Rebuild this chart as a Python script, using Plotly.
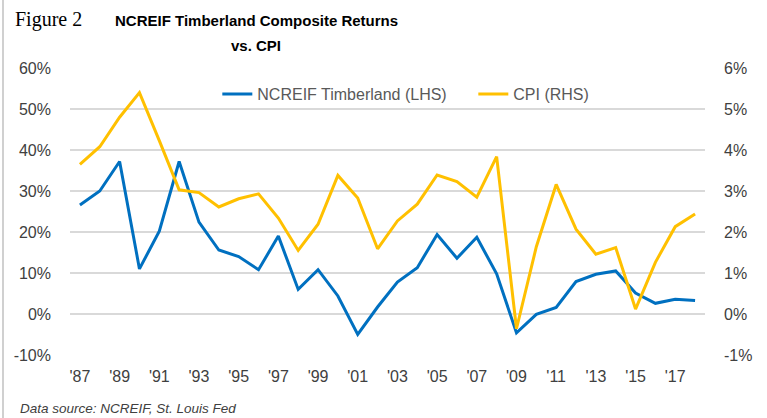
import plotly.graph_objects as go

years = list(range(1987, 2019))
timberland = [26.6, 30.0, 37.2, 11.0, 20.2, 37.2, 22.4, 15.6, 14.0, 10.8, 19.0, 6.0,
              10.8, 4.4, -5.0, 1.7, 7.8, 11.3, 19.4, 13.6, 18.7, 9.8, -4.6, -0.1,
              1.6, 7.9, 9.7, 10.5, 5.1, 2.6, 3.6, 3.3]
cpi = [3.65, 4.08, 4.8, 5.4, 4.23, 3.03, 2.96, 2.61, 2.81, 2.93, 2.34, 1.55,
       2.19, 3.38, 2.83, 1.59, 2.27, 2.68, 3.39, 3.23, 2.85, 3.84, -0.36, 1.64,
       3.16, 2.07, 1.46, 1.62, 0.12, 1.26, 2.13, 2.44]
tick_years = list(range(1987, 2019, 2))
tick_text = ["'" + str(y)[2:] for y in tick_years]
left_ticks = [-10, 0, 10, 20, 30, 40, 50, 60]
right_ticks = [-1, 0, 1, 2, 3, 4, 5, 6]

FONT = "Liberation Sans Narrow, Arial Narrow, Liberation Sans, Arial"

fig = go.Figure()
fig.add_trace(go.Scatter(x=years, y=timberland, mode="lines", name="NCREIF Timberland (LHS)",
                         line=dict(color="#0070c0", width=3), yaxis="y"))
fig.add_trace(go.Scatter(x=years, y=cpi, mode="lines", name="CPI (RHS)",
                         line=dict(color="#ffc000", width=3), yaxis="y2"))

fig.update_layout(
    width=767, height=418,
    margin=dict(l=70, r=62, t=68, b=63, autoexpand=False),
    paper_bgcolor="white", plot_bgcolor="white",
    font=dict(family=FONT, color="#404040", size=16),
    showlegend=True,
    legend=dict(orientation="h", x=0.232, y=0.909, xanchor="left", yanchor="middle",
                font=dict(family=FONT, size=16, color="#595959"),
                bgcolor="rgba(0,0,0,0)", itemwidth=30, tracegroupgap=0,
                entrywidth=211, entrywidthmode="pixels"),
    xaxis=dict(range=[1986.5, 2018.5], tickvals=tick_years, ticktext=tick_text,
               showgrid=False, zeroline=False, showline=False, ticks="",
               ticklabelstandoff=10, tickfont=dict(size=16, color="#404040")),
    yaxis=dict(range=[-10, 60], tickvals=left_ticks,
               ticktext=[f"{v}%" for v in left_ticks],
               showgrid=True, gridcolor="#d9d9d9", gridwidth=1.5,
               zeroline=False, showline=False, ticks="", ticklabelstandoff=18,
               tickfont=dict(size=16, color="#404040")),
    yaxis2=dict(range=[-1, 6], tickvals=right_ticks,
                ticktext=[f"{v}%" for v in right_ticks],
                overlaying="y", side="right", showgrid=False, zeroline=False,
                showline=False, ticks="", ticklabelstandoff=18,
                tickfont=dict(size=16, color="#404040")),
    annotations=[
        dict(text="<b>NCREIF Timberland Composite Returns</b>", xref="paper", yref="paper",
             x=(256 - 70) / 635, y=1 + (68 - 20) / 287, xanchor="center", yanchor="middle",
             showarrow=False, font=dict(family=FONT, size=15, color="#000000")),
        dict(text="<b>vs. CPI</b>", xref="paper", yref="paper",
             x=(256 - 70) / 635, y=1 + (68 - 45) / 287, xanchor="center", yanchor="middle",
             showarrow=False, font=dict(family=FONT, size=15, color="#000000")),
        dict(text="Figure 2", xref="paper", yref="paper",
             x=-(70 - 13) / 635, y=1 + (68 - 19) / 287, xanchor="left", yanchor="middle",
             showarrow=False, font=dict(family="Liberation Serif, DejaVu Serif, serif",
                                        size=20, color="#000000")),
        dict(text="<i>Data source: NCREIF, St. Louis Fed</i>", xref="paper", yref="paper",
             x=-(70 - 18) / 635, y=-(408 - 355) / 287, xanchor="left", yanchor="middle",
             showarrow=False, font=dict(family=FONT, size=13.5, color="#404040")),
    ],
    shapes=[dict(type="line", xref="paper", yref="paper", x0=-(70 - 3) / 635, x1=-(70 - 3) / 635,
                 y0=-(418 - 355) / 287, y1=1 + 68 / 287,
                 line=dict(color="#d0d0d0", width=2))],
)

fig.write_html("out.html", config={"displayModeBar": False},
               post_script="document.body.style.margin='0px';")
